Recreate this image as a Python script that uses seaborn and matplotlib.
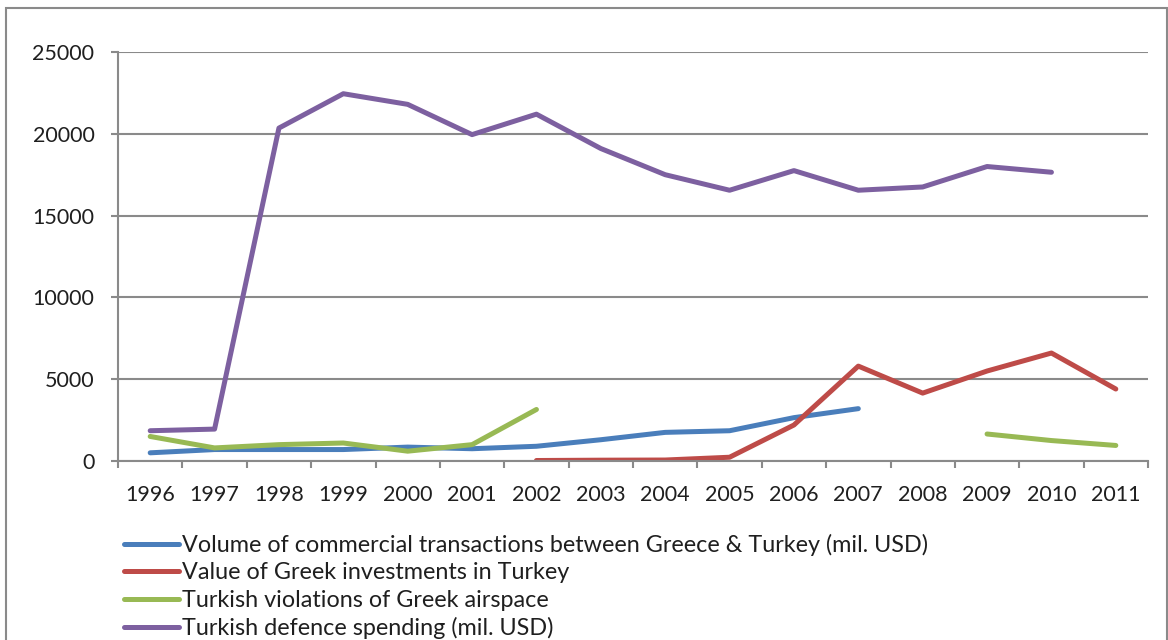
import numpy as np
import pandas as pd
import matplotlib
matplotlib.use("Agg")
import matplotlib.pyplot as plt
from matplotlib.lines import Line2D
from matplotlib.patches import Rectangle
import seaborn as sns

# ---- data -------------------------------------------------------------
years = ["1996", "1997", "1998", "1999", "2000", "2001", "2002", "2003",
         "2004", "2005", "2006", "2007", "2008", "2009", "2010", "2011"]

commerce = [500, 700, 700, 700, 850, 750, 900, 1300, 1750, 1850, 2650, 3200,
            None, None, None, None]
investments = [None, None, None, None, None, None, 30, 50, 60, 230, 2200,
               5800, 4150, 5500, 6600, 4400]
violations = [1500, 800, 1000, 1100, 600, 1000, 3150, None, None, None, None,
              None, None, 1650, 1250, 950]
defence = [1850, 1950, 20350, 22450, 21800, 19950, 21200, 19100, 17500, 16550,
           17750, 16550, 16750, 18000, 17650, None]

series_names = [
    "Volume of commercial transactions between Greece & Turkey (mil. USD)",
    "Value of Greek investments in Turkey",
    "Turkish violations of Greek airspace",
    "Turkish defence spending (mil. USD)",
]
series_values = [commerce, investments, violations, defence]
colors = ["#4A7EBB", "#BE4B48", "#98B954", "#7D60A0"]

# long-format table; each unbroken run of values becomes its own unit
rows = []
for name, vals in zip(series_names, series_values):
    seg = 0
    prev_missing = True
    for i, v in enumerate(vals):
        if v is None:
            prev_missing = True
            continue
        if prev_missing:
            seg += 1
        prev_missing = False
        rows.append({"x": i, "value": v, "series": name,
                     "unit": f"{name}-{seg}"})
df = pd.DataFrame(rows)

# ---- style ------------------------------------------------------------
sns.set_theme(style="white")
plt.rcParams["font.family"] = ["Lato", "DejaVu Sans"]
text_color = "#1F1F1F"
axis_gray = "#8A8A8A"

fig = plt.figure(figsize=(11.68, 6.4), dpi=100)
ax = fig.add_axes([118 / 1168, 1 - 461 / 640, 1030 / 1168, 409 / 640])

palette = dict(zip(series_names, colors))
sns.lineplot(data=df, x="x", y="value", hue="series", units="unit",
             estimator=None, palette=palette, hue_order=series_names,
             linewidth=3.6, ax=ax, legend=False, sort=True,
             solid_capstyle="round", solid_joinstyle="round")

# ---- axes -------------------------------------------------------------
ax.set_xlim(-0.5, len(years) - 0.5)
ax.set_ylim(0, 25000)
ax.set_yticks(np.arange(0, 25001, 5000))
ax.set_xticks(np.arange(len(years)))
ax.set_xticklabels(years)
ax.set_xticks(np.arange(-0.5, len(years)), minor=True)
ax.set_xlabel("")
ax.set_ylabel("")

ax.yaxis.grid(True, color=axis_gray, linewidth=1.5)
ax.xaxis.grid(False)
ax.set_axisbelow(True)

for side in ["top", "right"]:
    ax.spines[side].set_visible(False)
for side in ["left", "bottom"]:
    ax.spines[side].set_color(axis_gray)
    ax.spines[side].set_linewidth(1.5)

ax.tick_params(axis="y", which="major", direction="out", length=5,
               width=1.5, color=axis_gray, labelsize=15.5,
               labelcolor=text_color, pad=12, left=True)
ax.tick_params(axis="x", which="major", length=0, labelsize=15.5,
               labelcolor=text_color, pad=17, bottom=True)
ax.tick_params(axis="x", which="minor", direction="out", length=5,
               width=1.5, color=axis_gray, bottom=True)

# ---- legend -----------------------------------------------------------
handles = [Line2D([0], [0], color=c, linewidth=3.6, solid_capstyle="round")
           for c in colors]
fig.legend(handles, series_names, loc="upper left",
           bbox_to_anchor=(124 / 1168, 1 - 534 / 640),
           frameon=False, fontsize=16.8, handlelength=2.36,
           handletextpad=0.13, labelspacing=0.27, borderpad=0,
           borderaxespad=0, labelcolor=text_color)

# ---- outer frame ------------------------------------------------------
fig.patches.append(Rectangle((6 / 1168, -0.05), 1160.5 / 1168,
                             1.05 - 8 / 640, transform=fig.transFigure,
                             fill=False, edgecolor=axis_gray, linewidth=1.5))

fig.savefig("out.png", dpi=100)
